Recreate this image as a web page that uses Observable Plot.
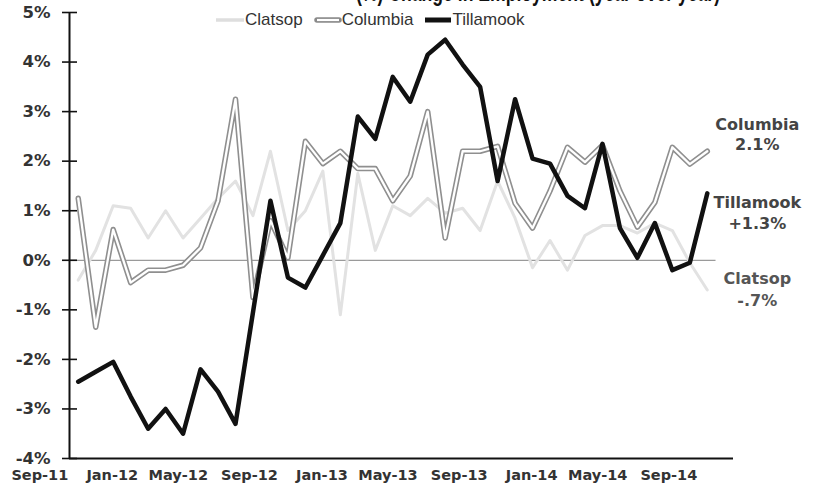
<!DOCTYPE html>
<html><head><meta charset="utf-8">
<script src="https://cdn.jsdelivr.net/npm/d3@7"></script>
<script src="https://cdn.jsdelivr.net/npm/@observablehq/plot@0.6"></script>
<style>
body{margin:0;background:#fff;}
#wrap{position:relative;width:813px;height:493px;overflow:hidden;background:#fff;}
#title{position:absolute;top:0;left:0;}
#legend{position:absolute;top:10px;left:215px;display:flex;align-items:center;font-family:"Liberation Sans",Arial,sans-serif;font-size:17px;color:#333;white-space:nowrap;}
#legend svg{display:block;}
#legend span{margin-right:11px;}
</style>
</head><body>
<div id="wrap"></div>
<script>
const months = ["Sep-11","Oct-11","Nov-11","Dec-11","Jan-12","Feb-12","Mar-12","Apr-12","May-12","Jun-12","Jul-12","Aug-12",
  "Sep-12","Oct-12","Nov-12","Dec-12","Jan-13","Feb-13","Mar-13","Apr-13","May-13","Jun-13","Jul-13","Aug-13",
  "Sep-13","Oct-13","Nov-13","Dec-13","Jan-14","Feb-14","Mar-14","Apr-14","May-14","Jun-14","Jul-14","Aug-14","Sep-14"];
const clatsop = [-0.4,0.2,1.1,1.05,0.45,1.0,0.45,0.85,1.25,1.6,0.9,2.2,0.6,1.0,1.8,-1.1,1.75,0.2,1.1,0.9,1.25,0.95,1.05,0.6,1.6,0.85,-0.15,0.4,-0.2,0.5,0.7,0.7,0.55,0.75,0.6,-0.05,-0.6];
const columbia = [1.25,-1.35,0.62,-0.45,-0.2,-0.2,-0.1,0.25,1.2,3.25,-0.75,0.8,0.05,2.4,1.95,2.2,1.85,1.85,1.2,1.7,3.0,0.45,2.2,2.2,2.3,1.15,0.65,1.4,2.28,1.98,2.32,1.4,0.67,1.17,2.28,1.94,2.2];
const tillamook = [-2.45,-2.25,-2.05,-2.75,-3.4,-3.0,-3.5,-2.2,-2.65,-3.3,-1.05,1.2,-0.35,-0.55,0.1,0.75,2.9,2.45,3.7,3.2,4.15,4.45,3.95,3.5,1.6,3.25,2.05,1.95,1.3,1.05,2.35,0.65,0.05,0.75,-0.2,-0.05,1.35];
const yTicks = [-4,-3,-2,-1,0,1,2,3,4,5];
const xTickLabels = ["Sep-11","Jan-12","May-12","Sep-12","Jan-13","May-13","Sep-13","Jan-14","May-14","Sep-14"];
const endLabels = [
  {name:"Columbia", text:"Columbia\n2.1%"},
  {name:"Tillamook", text:"Tillamook\n+1.3%"},
  {name:"Clatsop", text:"Clatsop\n-.7%"}
];
const titleText = "(%) Change in Employment (year over year)";

const toRows = arr => arr.map((v, i) => ({i, v}));
const cl = toRows(clatsop), co = toRows(columbia), ti = toRows(tillamook);
const last = months.length - 1;
const xTicks = xTickLabels.map(l => months.indexOf(l));
const endOf = {Columbia: columbia, Tillamook: tillamook, Clatsop: clatsop};

const font = "DejaVu Sans, Verdana, sans-serif";
const endText = (name, dy, lh, fill) => Plot.text(endLabels.filter(d => d.name === name), {
  x: () => last, y: d => endOf[d.name][last], text: "text", dx: 50, dy, lineHeight: lh,
  fontSize: 16, fontWeight: "bold", fill
});
const plot = Plot.plot({
  width: 813, height: 493,
  marginTop: 12, marginBottom: 35, marginLeft: 69, marginRight: 80,
  style: {background: "#fff", fontFamily: font},
  x: {type: "linear", domain: [-0.5, months.length + 0.5]},
  y: {domain: [-4, 5]},
  marks: [
    Plot.ruleY([0], {x1: () => -0.5, x2: () => last + 0.5, stroke: "#9a9a9a", strokeWidth: 1.3}),
    Plot.line(cl, {x: "i", y: "v", stroke: "#e2e2e2", strokeWidth: 3, strokeLinejoin: "round"}),
    Plot.line(co, {x: "i", y: "v", stroke: "#8f8f8f", strokeWidth: 5.5, strokeLinejoin: "round"}),
    Plot.line(co, {x: "i", y: "v", stroke: "#ffffff", strokeWidth: 2.3, strokeLinejoin: "round"}),
    Plot.line(ti, {x: "i", y: "v", stroke: "#111", strokeWidth: 4.5, strokeLinejoin: "round"}),
    Plot.ruleX([-0.5], {y1: -4, y2: 5, stroke: "#111", strokeWidth: 2}),
    Plot.ruleY([-4], {x1: () => -0.5, x2: () => months.length + 0.5, stroke: "#111", strokeWidth: 2}),
    Plot.ruleY(yTicks, {y: d => d, x1: () => -0.5, x2: () => -0.5, insetLeft: -7, insetRight: -8, stroke: "#111", strokeWidth: 1.6}),
    Plot.axisY({ticks: yTicks, tickSize: 0, tickPadding: 19, tickFormat: d => d + "%", fontSize: 16.5, fontWeight: "bold", fill: "#333", label: null}),
    Plot.axisX({ticks: xTicks, tickSize: 0, tickPadding: 11, tickFormat: i => months[i], textAnchor: "end", dx: -10, fontSize: 14.5, fontWeight: "bold", fill: "#333", label: null}),
    endText("Columbia", -18, 1.3, "#444"),
    endText("Tillamook", 18, 1.35, "#444"),
    endText("Clatsop", -2, 1.4, "#555")
  ]
});
const wrap = document.getElementById("wrap");
wrap.appendChild(plot);

// title: cut off at the top edge of the picture, as in the reference (only the lowest strokes show)
wrap.insertAdjacentHTML("beforeend",
  `<svg id="title" width="813" height="20"><text x="356" y="0.5" font-family="Liberation Sans, Arial, sans-serif" font-size="26" font-weight="bold" fill="#111" textLength="364" lengthAdjust="spacingAndGlyphs">${titleText}</text></svg>`);

const legendItems = [
  {name: "Clatsop", kind: "light"},
  {name: "Columbia", kind: "double"},
  {name: "Tillamook", kind: "black"}
];
const legend = document.createElement("div");
legend.id = "legend";
for (const it of legendItems) {
  const sw = it.kind === "light"
    ? `<svg width="30" height="10"><line x1="1" y1="5" x2="29" y2="5" stroke="#dedede" stroke-width="3.5"/></svg>`
    : it.kind === "double"
    ? `<svg width="28" height="10"><line x1="3" y1="5" x2="25" y2="5" stroke="#8a8a8a" stroke-width="5.5" stroke-linecap="round"/><line x1="3" y1="5" x2="25" y2="5" stroke="#fff" stroke-width="2.2"/></svg>`
    : `<svg width="28" height="10"><line x1="1" y1="5" x2="27" y2="5" stroke="#111" stroke-width="5"/></svg>`;
  legend.insertAdjacentHTML("beforeend", sw + `<span>${it.name}</span>`);
}
wrap.appendChild(legend);
</script>
</body></html>
